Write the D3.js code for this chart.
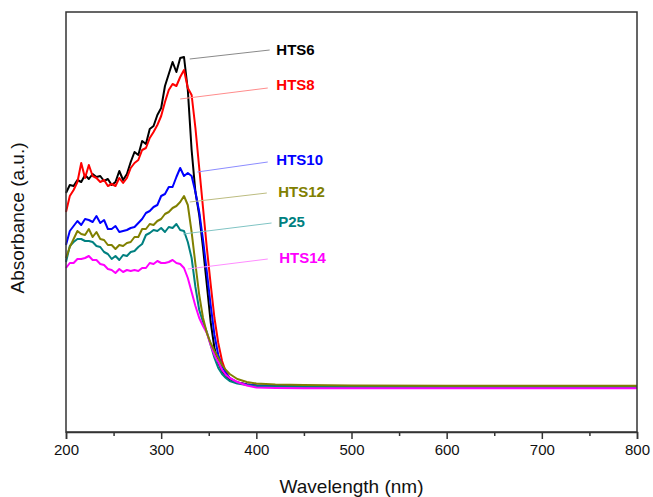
<!DOCTYPE html>
<html>
<head>
<meta charset="utf-8">
<script src="https://cdn.jsdelivr.net/npm/d3@7"></script>
<style>
  body { margin: 0; background: #fff; }
  text { font-family: "Liberation Sans", Arial, sans-serif; }
</style>
</head>
<body>
<script>
// wavelengths (nm) shared by every spectrum
var wavelengths = [200, 204, 208, 212, 216, 220, 224, 228, 232, 236, 240, 244, 248, 252, 256, 260, 264, 268, 272, 276,
    280, 284, 288, 292, 296, 300, 304, 308, 312, 316, 320, 324, 328, 332, 336, 340, 344, 348, 352, 356,
    360, 364, 368, 372, 380, 390, 400, 420, 450, 500, 600, 700, 800]

var hts6 = [2.39, 2.47, 2.46, 2.52, 2.50, 2.57, 2.53, 2.58, 2.55, 2.56, 2.51, 2.53, 2.47, 2.50, 2.61, 2.52, 2.58, 2.70, 2.80, 2.77,
    2.91, 2.88, 3.03, 3.06, 3.17, 3.24, 3.46, 3.58, 3.70, 3.60, 3.74, 3.75, 3.42, 2.82, 2.40, 2.17, 1.84, 1.47, 1.10, 0.84,
    0.69, 0.61, 0.56, 0.53, 0.495, 0.475, 0.465, 0.46, 0.457, 0.455, 0.453, 0.452, 0.452]

var hts8 = [2.20, 2.36, 2.42, 2.50, 2.69, 2.54, 2.67, 2.56, 2.54, 2.50, 2.52, 2.46, 2.48, 2.46, 2.54, 2.49, 2.54, 2.64, 2.69, 2.72,
    2.82, 2.84, 2.94, 3.00, 3.07, 3.16, 3.30, 3.42, 3.48, 3.46, 3.55, 3.62, 3.44, 3.37, 3.04, 2.64, 2.24, 1.84, 1.48, 1.14,
    0.89, 0.71, 0.60, 0.54, 0.495, 0.475, 0.465, 0.46, 0.457, 0.455, 0.453, 0.452, 0.452]

var hts10 = [1.87, 2.01, 2.06, 2.11, 2.07, 2.13, 2.12, 2.10, 2.16, 2.09, 2.12, 2.03, 2.03, 2.06, 2.00, 2.01, 2.02, 2.04, 2.05, 2.09,
    2.13, 2.19, 2.21, 2.25, 2.27, 2.36, 2.38, 2.45, 2.45, 2.55, 2.64, 2.56, 2.59, 2.56, 2.40, 2.20, 1.92, 1.60, 1.27, 0.97,
    0.77, 0.66, 0.59, 0.54, 0.495, 0.475, 0.465, 0.46, 0.457, 0.455, 0.453, 0.452, 0.452]

var hts12 = [1.74, 1.85, 1.93, 2.01, 1.98, 1.97, 2.03, 1.95, 2.00, 1.93, 1.92, 1.87, 1.87, 1.83, 1.87, 1.86, 1.89, 1.90, 1.95, 1.95,
    2.03, 2.03, 2.08, 2.07, 2.11, 2.13, 2.18, 2.20, 2.24, 2.26, 2.30, 2.36, 2.27, 2.00, 1.68, 1.37, 1.14, 0.99, 0.89, 0.81,
    0.74, 0.67, 0.62, 0.58, 0.53, 0.50, 0.485, 0.475, 0.47, 0.465, 0.463, 0.462, 0.462]

var p25 = [1.70, 1.86, 1.90, 1.93, 1.93, 1.91, 1.91, 1.90, 1.86, 1.85, 1.80, 1.78, 1.73, 1.76, 1.72, 1.77, 1.76, 1.80, 1.81, 1.85,
    1.88, 1.97, 1.99, 2.02, 2.01, 2.04, 2.00, 2.05, 2.04, 2.08, 2.02, 2.01, 1.90, 1.74, 1.45, 1.22, 1.10, 1.00, 0.87, 0.74,
    0.64, 0.58, 0.54, 0.51, 0.485, 0.47, 0.46, 0.455, 0.452, 0.45, 0.45, 0.45, 0.45]

var hts14 = [1.64, 1.69, 1.69, 1.73, 1.73, 1.74, 1.76, 1.72, 1.72, 1.68, 1.67, 1.63, 1.62, 1.59, 1.63, 1.60, 1.62, 1.61, 1.62, 1.61,
    1.64, 1.64, 1.69, 1.68, 1.71, 1.69, 1.69, 1.70, 1.72, 1.69, 1.68, 1.64, 1.54, 1.40, 1.26, 1.14, 1.06, 0.99, 0.87, 0.77,
    0.70, 0.62, 0.57, 0.54, 0.50, 0.465, 0.445, 0.44, 0.438, 0.438, 0.438, 0.438, 0.438]

var seriesNames = ["HTS6", "HTS8", "HTS10", "P25", "HTS14", "HTS12"]
var seriesValues = [hts6, hts8, hts10, p25, hts14, hts12]

var xTicks = [200, 300, 400, 500, 600, 700, 800]
var xMinorTicks = [250, 350, 450, 550, 650, 750]

// label text position and leader line ends, in data units [nm, absorbance]
var labelNames = ["HTS6", "HTS8", "HTS10", "HTS12", "P25", "HTS14"]
var labelAt = [[421, 3.77], [421, 3.42], [421, 2.67], [423, 2.35], [423, 2.05], [424, 1.69]]
var leaderFrom = [[330, 3.73], [320, 3.33], [338, 2.60], [330, 2.30], [323, 1.98], [328, 1.63]]
var leaderTo = [[414, 3.82], [412, 3.44], [412, 2.70], [411, 2.39], [416, 2.09], [412, 1.73]]

var colors = { "HTS6": "#000000", "HTS8": "#ff0000", "HTS10": "#0000ff", "HTS12": "#808000", "P25": "#008080", "HTS14": "#ff00ff" }
var leaderColors = { "HTS6": "#8a8a8a", "HTS8": "#ff8c8c", "HTS10": "#8c8cff", "HTS12": "#bcbc80", "P25": "#80c4c4", "HTS14": "#ff8cff" }

var margin = { top: 12, right: 16, bottom: 65, left: 66 },
    width = 653 - margin.left - margin.right,
    height = 497 - margin.top - margin.bottom,
    axisColor = "#333"

var svg = d3.select("body")
    .append("svg")
    .attr("width", 653)
    .attr("height", 497)
    .append("g")
    .attr("transform", "translate(" + margin.left + "," + margin.top + ")")

var x = d3.scaleLinear()
    .domain([200, 800])
    .range([0, width])

var y = d3.scaleLinear()
    .domain([0, 4.2])
    .range([height, 0])

// spectra
var line = d3.line()
    .x(function(d) { return x(d[0]) })
    .y(function(d) { return y(d[1]) })

seriesNames.forEach(function(name, i) {
    var pts = wavelengths.map(function(w, j) { return [w, seriesValues[i][j]] })
    svg.append("path")
        .datum(pts)
        .attr("fill", "none")
        .attr("stroke", colors[name])
        .attr("stroke-width", 2)
        .attr("stroke-linejoin", "round")
        .attr("d", line)
})

// leader lines and labels
labelNames.forEach(function(name, i) {
    svg.append("line")
        .attr("x1", x(leaderFrom[i][0]))
        .attr("y1", y(leaderFrom[i][1]))
        .attr("x2", x(leaderTo[i][0]))
        .attr("y2", y(leaderTo[i][1]))
        .attr("stroke", leaderColors[name])
        .attr("stroke-width", 1)

    svg.append("text")
        .attr("x", x(labelAt[i][0]))
        .attr("y", y(labelAt[i][1]))
        .style("fill", colors[name])
        .style("font-size", "15px")
        .style("font-weight", "bold")
        .text(name)
})

// frame
svg.append("rect")
    .attr("width", width)
    .attr("height", height)
    .attr("fill", "none")
    .attr("stroke", axisColor)
    .attr("stroke-width", 1.5)

// bottom axis with major and minor ticks
var xAxis = svg.append("g")
    .attr("transform", "translate(0," + height + ")")
    .call(d3.axisBottom(x).tickValues(xTicks).tickSize(7).tickPadding(5).tickFormat(d3.format("d")))

xAxis.select(".domain").attr("stroke", axisColor).attr("stroke-width", 1.5)
xAxis.selectAll(".tick line").attr("stroke", axisColor).attr("stroke-width", 1.5)
xAxis.selectAll(".tick text")
    .style("font-size", "15px")
    .style("font-family", "'Liberation Sans', Arial, sans-serif")
    .attr("fill", "#111")

svg.append("g")
    .attr("transform", "translate(0," + height + ")")
    .call(d3.axisBottom(x).tickValues(xMinorTicks).tickSize(4).tickFormat(""))
    .call(function(g) { g.select(".domain").remove() })
    .selectAll(".tick line").attr("stroke", axisColor).attr("stroke-width", 1.5)

// axis titles
svg.append("text")
    .attr("text-anchor", "middle")
    .attr("x", width / 2)
    .attr("y", height + 61)
    .style("font-size", "19px")
    .style("fill", "#111")
    .text("Wavelength (nm)")

svg.append("text")
    .attr("text-anchor", "middle")
    .attr("transform", "translate(" + (-42) + "," + (height / 2 - 4) + ") rotate(-90)")
    .style("font-size", "19px")
    .style("fill", "#111")
    .text("Absorbance (a.u.)")
</script>
</body>
</html>
